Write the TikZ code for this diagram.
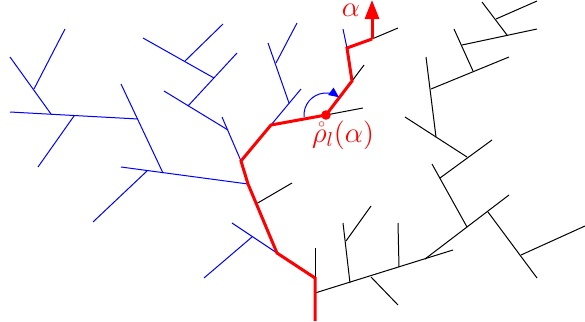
\documentclass[tikz,border=0pt]{standalone}
\usepackage{amsmath,amssymb}
\usetikzlibrary{arrows.meta}

\begin{document}
\begin{tikzpicture}[
    x=0.5pt, y=-0.5pt,
    % ── shared styles ──
    black branch/.style={draw=black, line width=0.5pt},
    blue branch/.style={draw=blue, line width=0.5pt},
    geodesic/.style={draw=red, line width=1.5pt},
    root arrow/.style={draw=red, line width=1.5pt,
        -{Triangle[length=9.5pt, width=7pt]}},
    turn arc/.style={draw=blue, line width=0.5pt,
        -{Triangle[length=5pt, width=4.5pt]}},
    red label/.style={text=red, font=\fontsize{14}{16}\selectfont,
        inner sep=0pt, anchor=base},
    red dot/.style={circle, fill=red, inner sep=0pt, minimum size=4.8pt},
]
\useasboundingbox (0,0) rectangle (585,322);

% ══════════════════════════════════════════════════════════════════════
%  POINTS ON THE RED PATH
% ══════════════════════════════════════════════════════════════════════
\coordinate (root) at (315,321);
\coordinate (r1)   at (315,278);
\coordinate (r2)   at (277,253);
\coordinate (r3)   at (248,184);
\coordinate (r4)   at (241,161);
\coordinate (r5)   at (271,125);
\coordinate (rho)  at (326,115);
\coordinate (r6)   at (352,81);
\coordinate (r7)   at (347,48);
\coordinate (r8)   at (372,39);
\coordinate (tip)  at (372,0);

% ══════════════════════════════════════════════════════════════════════
%  BLUE BRANCHES
% ══════════════════════════════════════════════════════════════════════
% ── far left ──
\draw[blue branch] (10,112) -- (138,119);
\draw[blue branch] (10,57) -- (51,114);
\draw[blue branch] (34,89) -- (65,29);
\draw[blue branch] (74,116) -- (38,167);
\draw[blue branch] (121,84) -- (163,173);
\draw[blue branch] (121,167) -- (r3);
\draw[blue branch] (147,171) -- (93,222);

% ── upper middle ──
\draw[blue branch] (222,117) -- (r4);
\draw[blue branch] (164,91) -- (228,130);
\draw[blue branch] (188,106) -- (237,53);
\draw[blue branch] (143,38) -- (214,78);
\draw[blue branch] (185,61) -- (223,24);
\draw[blue branch] (r5) -- (301,89);
\draw[blue branch] (268,43) -- (289,103);
\draw[blue branch] (276,63) -- (297,23);
\draw[blue branch] (r7) -- (343,29);

% ── lower left ──
\draw[blue branch] (232,223) -- (r2);
\draw[blue branch] (252,237) -- (204,278);

% ══════════════════════════════════════════════════════════════════════
%  BLACK BRANCHES
% ══════════════════════════════════════════════════════════════════════
\draw[black branch] (r8) -- (398,28);
\draw[black branch] (rho) -- (363,108);
\draw[black branch] (r6) -- (364,65);
\draw[black branch] (256,204) -- (292,183);
\draw[black branch] (315,248) -- (r1);

% ── upper right ──
\draw[black branch] (482,2) -- (507,35);
\draw[black branch] (496,19) -- (537,1);
\draw[black branch] (462,45) -- (537,29);
\draw[black branch] (454,29) -- (473,71);
\draw[black branch] (431,89) -- (509,57);
\draw[black branch] (426,57) -- (436,137);
\draw[black branch] (405,117) -- (467,157);
\draw[black branch] (440,178) -- (492,140);
\draw[black branch] (432,164) -- (467,227);
\draw[black branch] (425,259) -- (509,195);
\draw[black branch] (488,212) -- (537,278);
\draw[black branch] (521,255) -- (585,226);

% ── lower right ──
\draw[black branch] (315,293) -- (453,250);
\draw[black branch] (398,223) -- (399,267);
\draw[black branch] (371,277) -- (398,305);
\draw[black branch] (343,223) -- (350,283);
\draw[black branch] (346,241) -- (371,206);

% ══════════════════════════════════════════════════════════════════════
%  RED PATH, TURN AND LABELS
% ══════════════════════════════════════════════════════════════════════
\draw[geodesic] (root) -- (r1) -- (r2) -- (r3) -- (r4) -- (r5) -- (rho)
    -- (r6) -- (r7) -- (r8);
\draw[root arrow] (r8) -- (tip);

\draw[turn arc] (rho) ++(175:22) arc[start angle=175, end angle=306, radius=22];
\node[red dot] (rho dot) at (rho) {};

\node[red label] (alpha label) at (351,16) {$\alpha$};
\node[red label] (rho label) at (343,142) {$\mathring{\rho}_l(\alpha)$};

\end{tikzpicture}
\end{document}
